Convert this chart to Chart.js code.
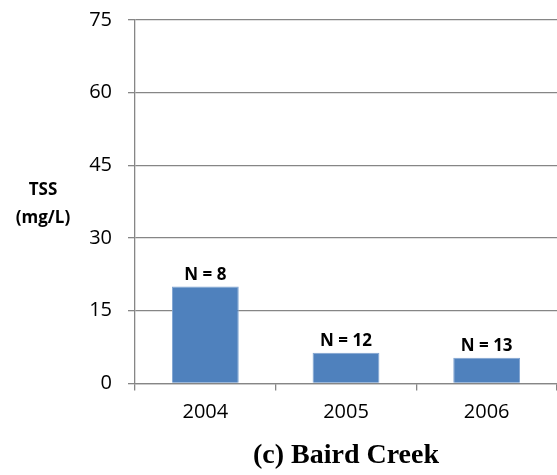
<!DOCTYPE html>
<html>
<head>
<meta charset="utf-8">
<script src="https://cdn.jsdelivr.net/npm/chart.js@4"></script>
<style>
  body { margin: 0; background: #fff; }
  #wrap { width: 557px; height: 475px; position: relative; }
</style>
</head>
<body>
<div id="wrap"><canvas id="tssChart"></canvas></div>
<script>
const years = ['2004', '2005', '2006'];
const tssMean = [20.0, 6.3, 5.3];
const sampleCounts = ['N = 8', 'N = 12', 'N = 13'];
const yTitleLines = ['TSS', '(mg/L)'];
const chartTitle = '(c) Baird Creek';

const gridGray = '#868686';
const sansFont = "'Open Sans', 'Liberation Sans', sans-serif";

// labels above bars
const barLabels = {
  id: 'barLabels',
  afterDatasetsDraw(chart) {
    const ctx = chart.ctx;
    const meta = chart.getDatasetMeta(0);
    ctx.save();
    ctx.font = 'bold 17px ' + sansFont;
    ctx.fillStyle = '#000';
    ctx.textAlign = 'center';
    ctx.textBaseline = 'bottom';
    meta.data.forEach((bar, i) => {
      ctx.fillText(sampleCounts[i], bar.x, bar.y - 3);
    });
    ctx.restore();
  }
};

// horizontal y-axis title on the left
const yTitle = {
  id: 'yTitle',
  afterDraw(chart) {
    const ctx = chart.ctx;
    const area = chart.chartArea;
    const mid = (area.top + area.bottom) / 2;
    ctx.save();
    ctx.font = 'bold 17px ' + sansFont;
    ctx.fillStyle = '#000';
    ctx.textAlign = 'center';
    ctx.textBaseline = 'middle';
    ctx.fillText(yTitleLines[0], 43, mid - 12);
    ctx.fillText(yTitleLines[1], 43, mid + 16);
    ctx.restore();
  }
};

new Chart(document.getElementById('tssChart'), {
  type: 'bar',
  data: {
    labels: years,
    datasets: [{
      data: tssMean,
      backgroundColor: '#4F81BD',
      borderColor: '#7FA3D1',
      borderWidth: 1,
      barPercentage: 0.475,
      categoryPercentage: 1
    }]
  },
  options: {
    responsive: true,
    maintainAspectRatio: false,
    animation: false,
    layout: { padding: { top: 0, right: 0, bottom: 2, left: 0 } },
    plugins: {
      legend: { display: false },
      tooltip: { enabled: false }
    },
    scales: {
      y: {
        min: 0,
        max: 75,
        ticks: {
          stepSize: 15,
          padding: 16,
          color: '#000',
          font: { family: sansFont, size: 20 }
        },
        grid: { color: gridGray, lineWidth: 1.3, tickLength: 7 },
        border: { color: gridGray, width: 1.3 },
        afterFit(scale) {
          scale.width = 135;
          scale.paddingTop = 20;
        }
      },
      x: {
        ticks: {
          padding: 10,
          color: '#000',
          font: { family: sansFont, size: 20 }
        },
        grid: {
          drawOnChartArea: false,
          offset: true,
          color: gridGray,
          lineWidth: 1.3,
          tickLength: 7
        },
        border: { color: gridGray, width: 1.3 },
        title: {
          display: true,
          text: chartTitle,
          color: '#000',
          font: { family: "'Liberation Serif', serif", size: 28, weight: 'bold' },
          padding: { top: 5, bottom: 0 }
        }
      }
    }
  },
  plugins: [barLabels, yTitle]
});
</script>
</body>
</html>
